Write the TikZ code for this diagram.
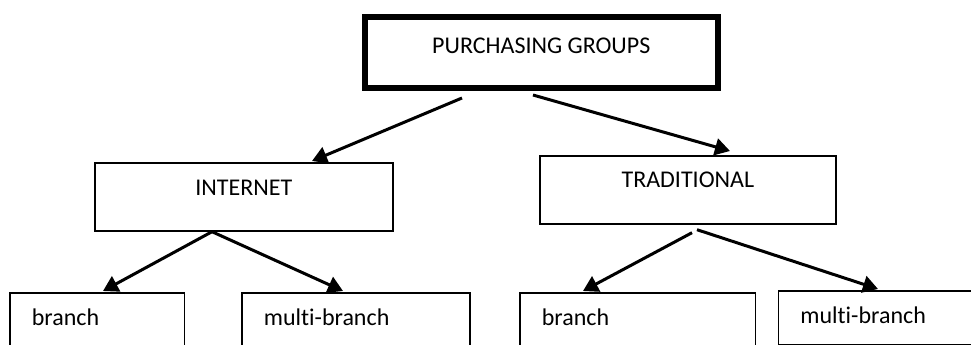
\documentclass[tikz,border=0pt]{standalone}
\usepackage{fontspec}
\setmainfont{Carlito}[Ligatures=NoCommon]
\usetikzlibrary{arrows.meta,calc}

\tikzset{
  box/.style={draw, line width=1.7pt, inner sep=0pt, anchor=north west,
              font=\fontsize{24}{28}\selectfont},
  headbox/.style={box, line width=6pt},
  leafbox/.style={box, inner xsep=22pt, align=left},
  arr/.style={line width=3pt, -{Triangle[length=15pt,width=17pt]}}
}

\begin{document}
\begin{tikzpicture}[x=1pt, y=-1pt]
  \useasboundingbox (0,0) rectangle (971,345);
  \clip (0,0) rectangle (971,345);

  % root and the two purchasing channels
  \node[headbox, minimum width=352.5pt, text height=35.5pt, text depth=35pt]
    (root) at (362,14.5) {PURCHASING GROUPS};
  \node[box, minimum width=298pt, text height=33pt, text depth=35pt]
    (inet) at (94,162) {INTERNET};
  \node[box, minimum width=296pt, text height=32pt, text depth=36pt]
    (trad) at (539,155) {TRADITIONAL};

  % leaf boxes (they run past the lower edge)
  \node[leafbox, text width=130.5pt, text height=33pt, text depth=80pt]
    (ib) at (9,292) {branch};
  \node[leafbox, text width=184pt, text height=33pt, text depth=80pt]
    (im) at (241,292) {multi-branch};
  \node[leafbox, text width=191.5pt, text height=33pt, text depth=80pt]
    (tb) at (519,292) {branch};
  \node[leafbox, text width=200pt, text height=33pt, text depth=21pt]
    (tm) at (777.5,290) {multi-branch};

  % connectors
  \draw[arr] ($(root.south west)+(100,7)$) -- ($(inet.north west)+(218,-1)$);
  \draw[arr] ($(root.south west)+(171,4)$) -- ($(trad.north west)+(191,-4)$);

  \draw[arr] ($(inet.south west)+(118,0)$) -- ($(ib.north west)+(94,-1)$);
  \draw[arr] ($(inet.south west)+(118,0)$) -- ($(im.north west)+(102,-1)$);

  \draw[arr] ($(trad.south west)+(153,8)$) -- ($(tb.north west)+(64,-1)$);
  \draw[arr] ($(trad.south west)+(158,5)$) -- ($(tm.north west)+(100.5,-1)$);
\end{tikzpicture}
\end{document}
